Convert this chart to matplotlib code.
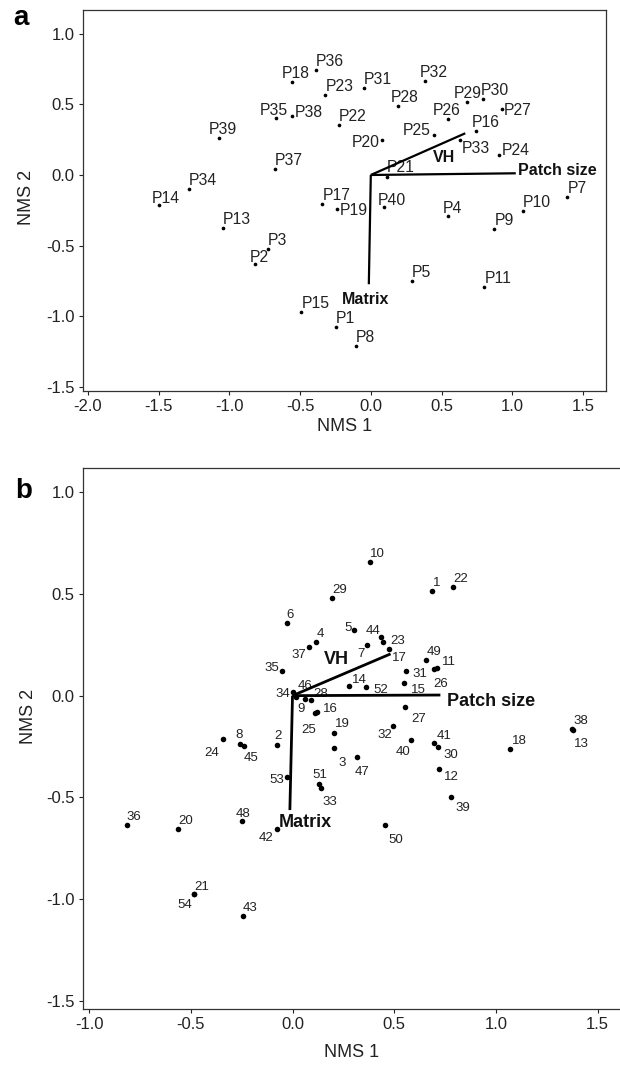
import matplotlib
matplotlib.use("Agg")
import matplotlib.pyplot as plt

plt.rcParams["font.family"] = ["Liberation Sans", "DejaVu Sans"]

DPI = 100

# ---- panel a: sites (NMS scores) ----
sites_a = ["P1", "P2", "P3", "P4", "P5", "P7", "P8", "P9", "P10", "P11",
           "P13", "P14", "P15", "P16", "P17", "P18", "P19", "P20", "P21", "P22",
           "P23", "P24", "P25", "P26", "P27", "P28", "P29", "P30", "P31", "P32",
           "P33", "P34", "P35", "P36", "P37", "P38", "P39", "P40"]
nms1_a = [-0.247, -0.819, -0.729, 0.545, 0.292, 1.390, -0.104, 0.873, 1.075, 0.803,
          -1.047, -1.496, -0.491, 0.747, -0.342, -0.555, -0.238, 0.081, 0.112, -0.227,
          -0.322, 0.909, 0.446, 0.545, 0.929, 0.194, 0.682, 0.792, -0.050, 0.385,
          0.634, -1.285, -0.670, -0.387, -0.676, -0.555, -1.075, 0.090]
nms2_a = [-1.073, -0.629, -0.523, -0.290, -0.752, -0.158, -1.209, -0.380, -0.257, -0.794,
          -0.375, -0.214, -0.969, 0.311, -0.203, 0.660, -0.240, 0.250, -0.017, 0.356,
          0.563, 0.139, 0.280, 0.396, 0.464, 0.488, 0.516, 0.540, 0.615, 0.665,
          0.245, -0.101, 0.401, 0.745, 0.042, 0.417, 0.264, -0.229]

# ---- panel b: sites (NMS scores) ----
sites_b = [str(i) for i in range(1, 55)]
nms1_b = [0.685, -0.074, 0.205, 0.117, 0.301, -0.029, 0.364, -0.256, 0.061, 0.382,
          0.711, 0.719, 1.379, 0.277, 0.547, 0.118, 0.473, 1.071, 0.205, -0.563,
          -0.485, 0.790, 0.447, -0.344, 0.112, 0.694, 0.555, 0.093, 0.195, 0.714,
          0.560, 0.496, 0.141, 0.002, -0.051, -0.815, 0.080, 1.376, 0.779, 0.582,
          0.695, -0.077, -0.243, 0.433, -0.239, 0.015, 0.318, -0.250, 0.655, 0.454,
          0.129, 0.359, -0.026, -0.482]
nms2_b = [0.513, -0.242, -0.259, 0.265, 0.320, 0.356, 0.251, -0.237, -0.018, 0.658,
          0.138, -0.359, -0.169, 0.048, 0.061, -0.080, 0.228, -0.263, -0.183, -0.654,
          -0.976, 0.535, 0.265, -0.214, -0.086, 0.131, -0.054, -0.021, 0.480, -0.250,
          0.123, -0.151, -0.455, 0.020, 0.123, -0.634, 0.238, -0.166, -0.496, -0.218,
          -0.232, -0.657, -1.081, 0.290, -0.247, -0.005, -0.300, -0.616, 0.174, -0.634,
          -0.434, 0.041, -0.400, -0.972]

# ---- environmental vectors ----
vectors = ["VH", "Patch size", "Matrix"]
vec_x_a = [0.668, 1.025, -0.014]
vec_y_a = [0.295, 0.012, -0.773]
vec_x_b = [0.482, 0.727, -0.013]
vec_y_b = [0.205, 0.003, -0.562]

xticks_a = [-2.0, -1.5, -1.0, -0.5, 0.0, 0.5, 1.0, 1.5]
xticks_b = [-1.0, -0.5, 0.0, 0.5, 1.0, 1.5]
yticks = [1.0, 0.5, 0.0, -0.5, -1.0, -1.5]

# ---- label layout: (dx px, dy px to baseline, ha) ----
default_a = (0, 4, "left")
offs_a = {
    "P18": (-11, 4, "left"), "P32": (-6, 4, "left"), "P28": (-7, 4, "left"),
    "P29": (-14, 4, "left"), "P30": (-2, 4, "left"), "P27": (2, -6, "left"),
    "P26": (-15, 4, "left"), "P35": (-16, 3, "left"), "P38": (2, -1, "left"),
    "P16": (-5, 4, "left"), "P39": (-10, 4, "left"), "P14": (-7, 2, "left"),
    "P40": (-6, 2, "left"), "P4": (-5, 3, "left"), "P2": (-5, 2, "left"),
    "P25": (-3, 0, "right"), "P20": (-3, -7, "right"), "P33": (1, -13, "left"),
    "P24": (2, 0, "left"), "P19": (3, -6, "left"), "P21": (0, 5, "left"),
}
default_b = (0, 5, "left")
offs_b = {
    "1": (1, 5, "left"), "2": (-3, 6, "left"), "3": (4, -18, "left"),
    "5": (-2, -1, "right"), "7": (-2, -12, "right"), "8": (-5, 6, "left"),
    "9": (-8, -13, "left"), "11": (5, 3, "left"), "12": (5, -11, "left"),
    "13": (1, -17, "left"), "14": (3, 3, "left"), "15": (7, -10, "left"),
    "16": (6, 0, "left"), "17": (3, -12, "left"), "18": (2, 5, "left"),
    "19": (1, 6, "left"), "21": (0, 4, "left"), "23": (7, -2, "left"),
    "24": (-3, -17, "right"), "25": (1, -20, "right"), "26": (0, -18, "left"),
    "27": (6, -15, "left"), "28": (2, 3, "left"), "30": (6, -11, "left"),
    "31": (6, -6, "left"), "32": (-1, -12, "right"), "33": (1, -17, "left"),
    "34": (-3, -5, "right"), "35": (-3, 0, "right"), "37": (-3, -11, "right"),
    "38": (1, 5, "left"), "39": (4, -14, "left"), "40": (0, -15, "right"),
    "41": (3, 4, "left"), "42": (-3, -12, "right"), "44": (-15, 3, "left"),
    "45": (0, -15, "left"), "46": (2, 8, "left"), "47": (-3, -18, "left"),
    "48": (-6, 4, "left"), "49": (1, 5, "left"), "50": (4, -18, "left"),
    "51": (-6, 6, "left"), "52": (8, -6, "left"), "53": (-3, -6, "right"),
    "54": (-2, -14, "right"),
}
# vector label offsets from arrow tip (dx px, dy px, ha, va)
vec_offs_a = [(-21, -24, "center", "center"), (2, 3, "left", "center"), (-3, -8, "center", "top")]
vec_offs_b = [(-54, -6, "center", "center"), (7, -6, "left", "center"), (15, -4, "center", "top")]


def px(v):
    return v * 72.0 / DPI


def style_axes(ax, xticks):
    ax.set_xticks(xticks)
    ax.set_yticks(yticks)
    ax.set_xticklabels([f"{t:.1f}" for t in xticks])
    ax.set_yticklabels([f"{t:.1f}" for t in yticks])
    ax.tick_params(direction="out", length=3, width=0.8, labelsize=12, pad=3, colors="#222222")
    for s in ax.spines.values():
        s.set_linewidth(0.9)
        s.set_color("#333333")
    ax.set_xlabel("NMS 1", fontsize=13, color="#222222")
    ax.set_ylabel("NMS 2", fontsize=13, color="#222222")


def draw_panel(ax, xs, ys, names, offs, default, size, fsize, vx, vy, voffs, vfs, lw):
    ax.scatter(xs, ys, s=size, color="black", zorder=3, linewidths=0)
    for n, x, y in zip(names, xs, ys):
        dx, dy, ha = offs.get(n, default)
        ax.annotate(n, (x, y), xytext=(px(dx), px(dy)), textcoords="offset points",
                    ha=ha, va="baseline", fontsize=fsize, color="#222222")
    for name, ex, ey, (dx, dy, ha, va) in zip(vectors, vx, vy, voffs):
        ax.plot([0, ex], [0, ey], color="black", lw=lw, solid_capstyle="butt", zorder=4)
        ax.annotate(name, (ex, ey), xytext=(px(dx), px(dy)), textcoords="offset points",
                    ha=ha, va=va, fontsize=vfs, fontweight="bold", color="#111111")


fig = plt.figure(figsize=(6.2, 10.65), dpi=DPI)

# panel a
ax1 = fig.add_axes([83 / 620, 1 - 391 / 1065, 523 / 620, 381 / 1065])
draw_panel(ax1, nms1_a, nms2_a, sites_a, offs_a, default_a, 7, 11.3,
           vec_x_a, vec_y_a, vec_offs_a, 11.5, 1.6)
ax1.set_xlim(-2.035, 1.663)
ax1.set_ylim(-1.528, 1.167)
style_axes(ax1, xticks_a)
ax1.xaxis.set_label_coords(0.5, -0.072)
ax1.yaxis.set_label_coords(-0.092, 0.509)

# panel b
ax2 = fig.add_axes([83 / 620, 1 - 1009 / 1065, 537 / 620, 541 / 1065])
draw_panel(ax2, nms1_b, nms2_b, sites_b, offs_b, default_b, 16, 9.5,
           vec_x_b, vec_y_b, vec_offs_b, 13, 2.0)
ax2.set_xlim(-1.03, 1.61)
ax2.set_ylim(-1.539, 1.118)
style_axes(ax2, xticks_b)
ax2.spines["right"].set_visible(False)
ax2.xaxis.set_label_coords(0.5, -0.064)
ax2.yaxis.set_label_coords(-0.086, 0.54)

fig.text(13 / 620, 1 - 25 / 1065, "a", fontsize=20, fontweight="bold", va="baseline")
fig.text(15 / 620, 1 - 498 / 1065, "b", fontsize=20, fontweight="bold", va="baseline")

fig.savefig("out.png", dpi=DPI)
